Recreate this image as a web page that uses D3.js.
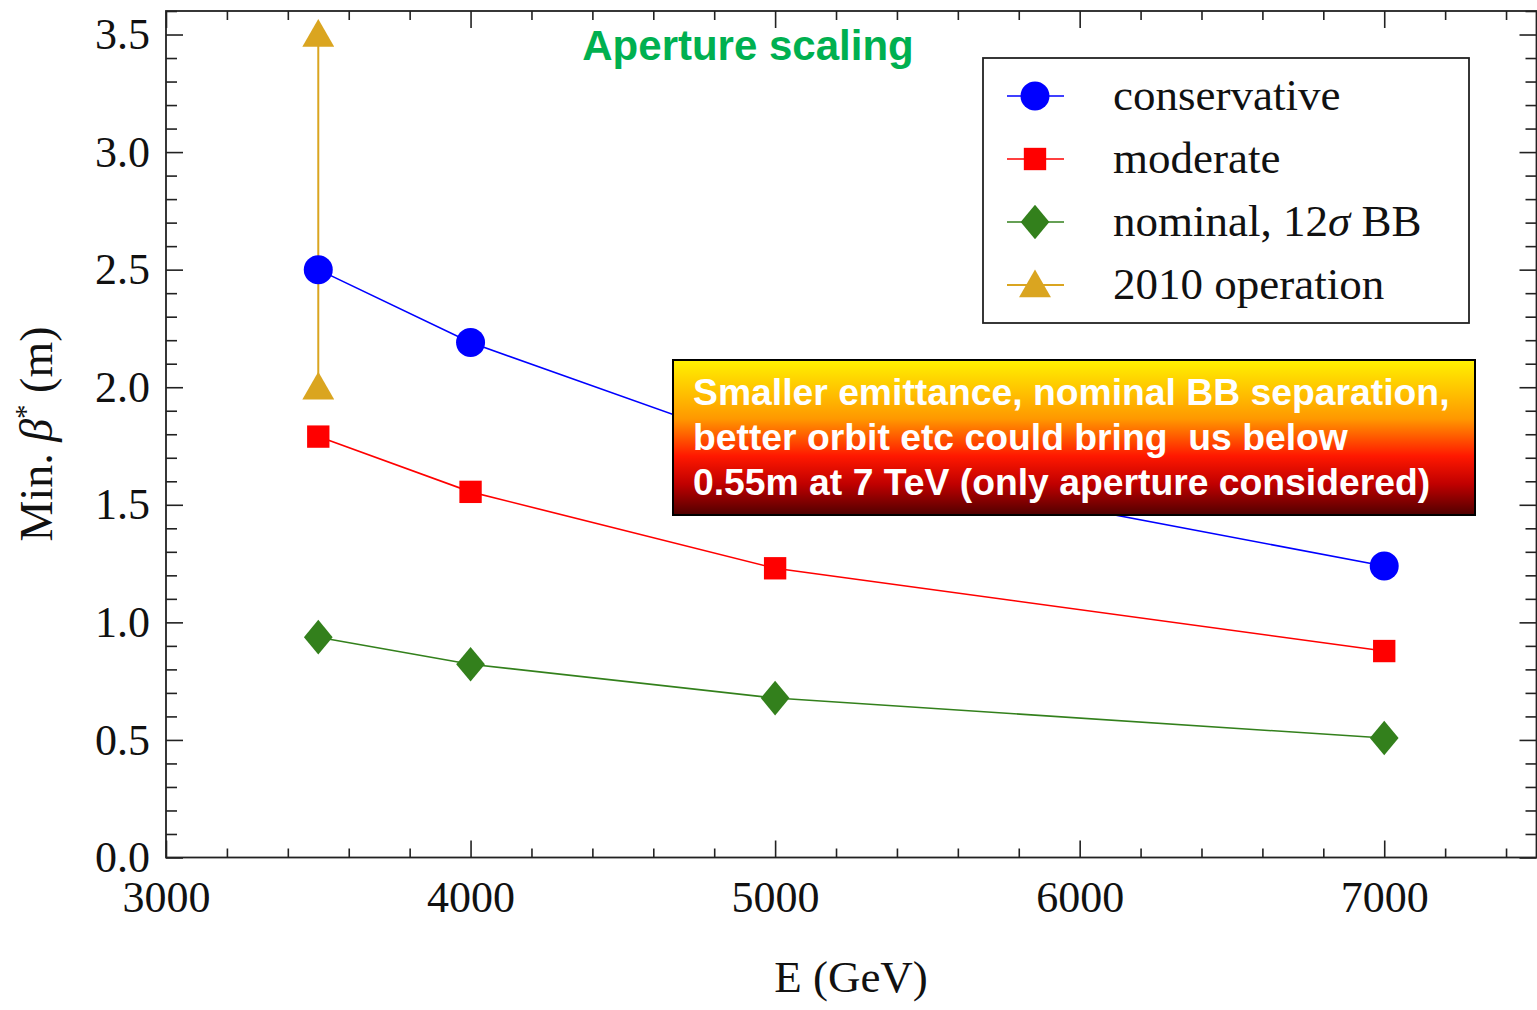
<!DOCTYPE html>
<html><head><meta charset="utf-8">
<script src="https://cdn.jsdelivr.net/npm/d3@7"></script>
<style>html,body{margin:0;padding:0;background:#fff;}svg{display:block;}</style>
</head><body>
<svg id="chart" width="1537" height="1010"></svg>
<script>
const energies = [3500, 4000, 5000, 7000];
const conservative = [2.50, 2.19, 1.73, 1.24];
const moderate = [1.79, 1.555, 1.23, 0.878];
const nominal = [0.937, 0.822, 0.678, 0.508];
const op2010E = [3500, 3500];
const op2010 = [3.5, 2.0];
const xMajorTicks = [3000, 4000, 5000, 6000, 7000];
const yMajorTicks = [0.0, 0.5, 1.0, 1.5, 2.0, 2.5, 3.0, 3.5];
const legendLabels = ["conservative", "moderate", "nominal, 12σ BB", "2010 operation"];
const noteLines = ["Smaller emittance, nominal BB separation,", "better orbit etc could bring  us below", "0.55m at 7 TeV (only aperture considered)"];

const svg = d3.select("#chart");
const L = 166, R = 1536.5, T = 11, B = 857.5;
const x = d3.scaleLinear().domain([3000, 7500]).range([L, R]);
const y = d3.scaleLinear().domain([0, 3.6]).range([B, T]);
const serif = "'Liberation Serif','Times New Roman',serif";
const sans = "'Liberation Sans',Arial,sans-serif";

const xMinor = d3.range(3000, 7501, 200).filter(v => v % 1000 !== 0);
const yMinor = d3.range(0, 37, 1).map(v => v / 10).filter(v => Math.abs(v * 2 - Math.round(v * 2)) > 1e-6);

function styleAxis(g) {
  g.select(".domain").remove();
  g.selectAll(".tick line").attr("stroke", "#222").attr("stroke-width", 1.6);
  g.selectAll(".tick text").attr("font-family", serif).attr("font-size", 44).attr("fill", "#111");
}
svg.append("g").attr("transform", `translate(0,${B})`)
  .call(d3.axisBottom(x).tickValues(xMajorTicks).tickSize(-17).tickPadding(23).tickFormat(d3.format("d"))).call(styleAxis);
svg.append("g").attr("transform", `translate(0,${B})`)
  .call(d3.axisBottom(x).tickValues(xMinor).tickSize(-9).tickFormat("")).call(styleAxis);
svg.append("g").attr("transform", `translate(0,${T})`)
  .call(d3.axisTop(x).tickValues(xMajorTicks).tickSize(-17).tickFormat("")).call(styleAxis);
svg.append("g").attr("transform", `translate(0,${T})`)
  .call(d3.axisTop(x).tickValues(xMinor).tickSize(-9).tickFormat("")).call(styleAxis);
svg.append("g").attr("transform", `translate(${L},0)`)
  .call(d3.axisLeft(y).tickValues(yMajorTicks).tickSize(-17).tickPadding(16).tickFormat(d3.format(".1f"))).call(styleAxis);
svg.append("g").attr("transform", `translate(${L},0)`)
  .call(d3.axisLeft(y).tickValues(yMinor).tickSize(-11).tickFormat("")).call(styleAxis);
svg.append("g").attr("transform", `translate(${R},0)`)
  .call(d3.axisRight(y).tickValues(yMajorTicks).tickSize(-17).tickFormat("")).call(styleAxis);
svg.append("g").attr("transform", `translate(${R},0)`)
  .call(d3.axisRight(y).tickValues(yMinor).tickSize(-11).tickFormat("")).call(styleAxis);

svg.append("rect").attr("x", L).attr("y", T).attr("width", R - L).attr("height", B - T)
  .attr("fill", "none").attr("stroke", "#222").attr("stroke-width", 1.8);

svg.append("text").attr("x", 851).attr("y", 992).attr("text-anchor", "middle")
  .attr("font-family", serif).attr("font-size", 45).attr("fill", "#111").text("E (GeV)");
const yt = svg.append("text").attr("transform", "translate(52,434) rotate(-90)").attr("text-anchor", "middle")
  .attr("font-family", serif).attr("font-size", 46).attr("fill", "#111");
yt.append("tspan").text("Min. ");
yt.append("tspan").attr("font-style", "italic").text("β");
yt.append("tspan").attr("font-size", 29).attr("dy", -17).text("*");
yt.append("tspan").attr("dy", 17).text(" (m)");

const line = d3.line().x(d => x(d[0])).y(d => y(d[1]));
const series = [
  {vals: conservative, xs: energies, color: "#0000ff", sym: d3.symbolCircle, size: 660, lw: 1.6},
  {vals: moderate, xs: energies, color: "#ff0000", sym: d3.symbolSquare, size: 500, lw: 1.6},
  {vals: nominal, xs: energies, color: "#33801c", sym: d3.symbolDiamond, size: 540, lw: 1.6},
  {vals: op2010, xs: op2010E, color: "#daa520", sym: d3.symbolTriangle, size: 440, lw: 2}
];
function symTransform(s, px, py) {
  return `translate(${px},${py + (s.sym === d3.symbolTriangle ? 3 : 0)})${s.sym === d3.symbolDiamond ? " scale(1.15,0.8)" : ""}`;
}
[3, 0, 1, 2].forEach(i => {
  const s = series[i];
  const pts = s.xs.map((e, j) => [e, s.vals[j]]);
  svg.append("path").attr("d", line(pts)).attr("fill", "none").attr("stroke", s.color).attr("stroke-width", s.lw);
});
[3, 0, 1, 2].forEach(i => {
  const s = series[i];
  const pts = s.xs.map((e, j) => [e, s.vals[j]]);
  svg.selectAll(null).data(pts).enter().append("path")
    .attr("d", d3.symbol().type(s.sym).size(s.size))
    .attr("transform", d => symTransform(s, x(d[0]), y(d[1])))
    .attr("fill", s.color);
});

svg.append("text").attr("x", 748).attr("y", 60).attr("text-anchor", "middle")
  .attr("font-family", sans).attr("font-weight", "bold").attr("font-size", 42).attr("fill", "#00b050").text("Aperture scaling");

const lg = svg.append("g");
lg.append("rect").attr("x", 983).attr("y", 58).attr("width", 486).attr("height", 265)
  .attr("fill", "#fff").attr("stroke", "#222").attr("stroke-width", 1.8);
series.forEach((s, i) => {
  const cy = 96 + i * 63;
  lg.append("line").attr("x1", 1007).attr("x2", 1064).attr("y1", cy).attr("y2", cy).attr("stroke", s.color).attr("stroke-width", s.lw);
  lg.append("path").attr("d", d3.symbol().type(s.sym).size(s.size))
    .attr("transform", symTransform(s, 1035, cy))
    .attr("fill", s.color);
  const t = lg.append("text").attr("x", 1113).attr("y", cy + 14).attr("font-family", serif).attr("font-size", 45).attr("fill", "#111");
  const lab = legendLabels[i];
  if (lab.includes("σ")) {
    const parts = lab.split("σ");
    t.append("tspan").text(parts[0]);
    t.append("tspan").attr("font-style", "italic").text("σ");
    t.append("tspan").text(parts[1]);
  } else t.text(lab);
});

const defs = svg.append("defs");
const grad = defs.append("linearGradient").attr("id", "noteGrad").attr("x1", 0).attr("y1", 0).attr("x2", 0).attr("y2", 1);
[[0, "#fff200"], [0.38, "#ff9800"], [0.62, "#ff1800"], [0.8, "#c00000"], [1, "#500000"]]
  .forEach(([o, c]) => grad.append("stop").attr("offset", o).attr("stop-color", c));
svg.append("rect").attr("x", 673).attr("y", 360).attr("width", 802).attr("height", 155)
  .attr("fill", "url(#noteGrad)").attr("stroke", "#000").attr("stroke-width", 2);
noteLines.forEach((ln, i) => {
  svg.append("text").attr("x", 693).attr("y", 405 + i * 45).attr("font-family", sans).attr("font-weight", "bold")
    .attr("font-size", 37.3).attr("fill", "#fff").attr("xml:space", "preserve").style("white-space", "pre").text(ln);
});
</script>
</body></html>
